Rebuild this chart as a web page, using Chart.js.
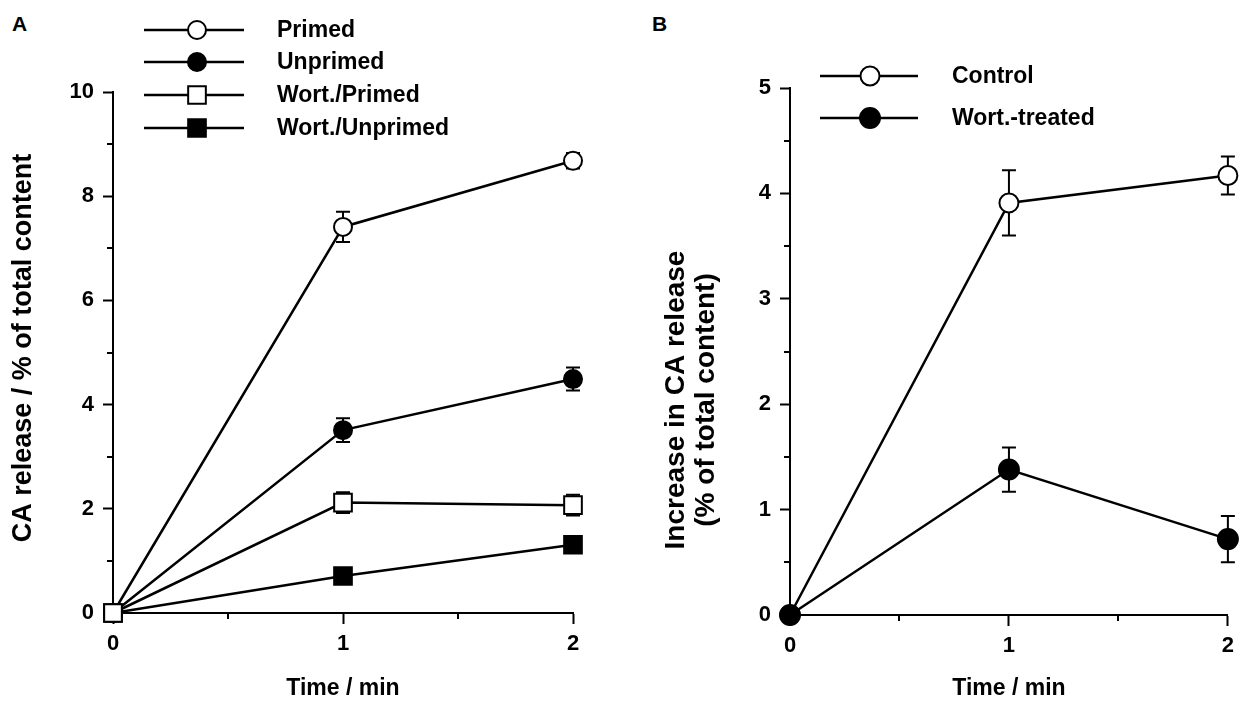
<!DOCTYPE html>
<html><head><meta charset="utf-8">
<script src="https://cdn.jsdelivr.net/npm/chart.js@4.4.1/dist/chart.umd.min.js"></script>
<style>
html,body{margin:0;padding:0;background:#fff;}
body{width:1241px;height:711px;position:relative;overflow:hidden;font-family:"Liberation Sans",Arial,sans-serif;}
.panel{position:absolute;top:0;height:711px;}
#wa{left:0;width:620px;}
#wb{left:620px;width:621px;}
.lbl{position:absolute;font-weight:bold;font-size:21px;color:#000;line-height:1;}
</style></head><body>
<div class="lbl" style="left:12px;top:13px">A</div>
<div class="lbl" style="left:652px;top:13px">B</div>
<div class="panel" id="wa"><canvas id="ca" width="620" height="711"></canvas></div>
<div class="panel" id="wb"><canvas id="cb" width="621" height="711"></canvas></div>
<script>
// ---- Panel A data ----
const timeA = [0, 1, 2];
const primed = [0, 7.41, 8.68];
const primedErr = [0, 0.29, 0.15];
const unprimed = [0, 3.51, 4.49];
const unprimedErr = [0, 0.23, 0.22];
const wortPrimed = [0, 2.12, 2.07];
const wortPrimedErr = [0, 0.2, 0.2];
const wortUnprimed = [0, 0.71, 1.31];
const wortUnprimedErr = [0, 0.08, 0.08];
const labelsA = ['Primed', 'Unprimed', 'Wort./Primed', 'Wort./Unprimed'];
const yTicksA = [0, 2, 4, 6, 8, 10];
const xTicks = [0, 1, 2];
const yTitleA = ['CA release / % of total content'];

// ---- Panel B data ----
const timeB = [0, 1, 2];
const control = [0, 3.91, 4.17];
const controlErr = [0, 0.31, 0.18];
const wortTreated = [0, 1.38, 0.72];
const wortTreatedErr = [0, 0.21, 0.22];
const labelsB = ['Control', 'Wort.-treated'];
const yTicksB = [0, 1, 2, 3, 4, 5];
const yTitleB = ['Increase in CA release', '(% of total content)'];

const FONT = '"Liberation Sans", Arial, sans-serif';
const BLACK = '#000';

function pts(xs, ys) { return xs.map((x, i) => ({x: x, y: ys[i]})); }

function mkDs(label, xs, ys, err, style, filled, radius, order) {
  return {
    label: label, data: pts(xs, ys), err: err,
    borderColor: BLACK, borderWidth: 2.5, tension: 0, fill: false,
    pointStyle: style, pointRadius: radius, pointHoverRadius: radius,
    pointBorderWidth: 2, pointBorderColor: BLACK,
    pointBackgroundColor: filled ? BLACK : '#fff',
    clip: false, order: order
  };
}

const errorBars = {
  id: 'errorBars',
  beforeDatasetsDraw(chart) {
    const ctx = chart.ctx, xs = chart.scales.x, ys = chart.scales.y;
    ctx.save();
    ctx.strokeStyle = BLACK; ctx.lineWidth = 2;
    chart.data.datasets.forEach(ds => {
      if (!ds.err) return;
      ds.data.forEach((p, j) => {
        const e = ds.err[j];
        if (!e) return;
        const x = xs.getPixelForValue(p.x);
        const yt = ys.getPixelForValue(p.y + e), yb = ys.getPixelForValue(p.y - e);
        ctx.beginPath();
        ctx.moveTo(x, yt); ctx.lineTo(x, yb);
        ctx.moveTo(x - 7, yt); ctx.lineTo(x + 7, yt);
        ctx.moveTo(x - 7, yb); ctx.lineTo(x + 7, yb);
        ctx.stroke();
      });
    });
    ctx.restore();
  }
};

const minorTicks = {
  id: 'minorTicks',
  afterDraw(chart, args, opts) {
    const ctx = chart.ctx;
    ctx.save();
    ctx.strokeStyle = BLACK; ctx.lineWidth = 2;
    const xs = chart.scales.x, ys = chart.scales.y;
    xs.ticks.forEach(t => {
      if (opts.xMajor(t.value)) return;
      const p = Math.round(xs.getPixelForValue(t.value));
      ctx.beginPath(); ctx.moveTo(p, xs.top); ctx.lineTo(p, xs.top + 6); ctx.stroke();
    });
    ys.ticks.forEach(t => {
      if (opts.yMajor(t.value)) return;
      const p = Math.round(ys.getPixelForValue(t.value));
      ctx.beginPath(); ctx.moveTo(ys.right, p); ctx.lineTo(ys.right - 6, p); ctx.stroke();
    });
    ctx.restore();
  }
};

const lineLegend = {
  id: 'lineLegend',
  afterDraw(chart, args, opts) {
    const ctx = chart.ctx;
    ctx.save();
    chart.data.datasets.forEach((ds, i) => {
      const y = opts.rows[i];
      ctx.strokeStyle = BLACK; ctx.lineWidth = 2.5;
      ctx.beginPath(); ctx.moveTo(opts.x1, y); ctx.lineTo(opts.x2, y); ctx.stroke();
      ctx.fillStyle = ds.pointBackgroundColor; ctx.strokeStyle = BLACK; ctx.lineWidth = 2;
      Chart.helpers.drawPoint(ctx, {pointStyle: ds.pointStyle, radius: ds.pointRadius, borderWidth: 2, rotation: 0}, opts.xm, y);
      ctx.fillStyle = BLACK;
      ctx.font = 'bold ' + opts.fontSize + 'px ' + FONT;
      ctx.textBaseline = 'middle'; ctx.textAlign = 'left';
      ctx.fillText(ds.label, opts.xt, y + 1);
    });
    ctx.restore();
  }
};

const yTitle = {
  id: 'yTitle',
  afterDraw(chart, args, opts) {
    const ctx = chart.ctx;
    ctx.save();
    ctx.fillStyle = BLACK;
    ctx.font = 'bold ' + opts.fontSize + 'px ' + FONT;
    ctx.textAlign = 'center'; ctx.textBaseline = 'middle';
    opts.lines.forEach((line, i) => {
      ctx.save();
      ctx.translate(opts.x + i * opts.dx, opts.cy);
      ctx.rotate(-Math.PI / 2);
      ctx.fillText(line, 0, 0);
      ctx.restore();
    });
    ctx.restore();
  }
};

function makeScales(cfg) {
  return {
    x: {
      type: 'linear', min: 0, max: 2,
      afterFit: s => { s.height = cfg.xH; },
      ticks: {
        stepSize: 0.5, autoSkip: false, maxRotation: 0, padding: 7,
        color: BLACK, font: {family: FONT, size: 22, weight: 'bold'},
        callback: v => (xTicks.includes(v) ? String(v) : '')
      },
      grid: {
        drawOnChartArea: false, tickLength: 11, tickWidth: 2,
        tickColor: c => (c.tick && xTicks.includes(c.tick.value) ? BLACK : 'rgba(0,0,0,0)')
      },
      border: {color: BLACK, width: 2},
      title: {display: true, text: 'Time / min', color: BLACK,
        font: {family: FONT, size: 23, weight: 'bold', lineHeight: 1.2}, padding: {top: 0, bottom: 9}}
    },
    y: {
      type: 'linear', min: 0, max: cfg.yMax,
      afterFit: s => { s.width = cfg.yW; },
      ticks: {
        stepSize: cfg.yStep, autoSkip: false, padding: 9,
        color: BLACK, font: {family: FONT, size: 22, weight: 'bold'},
        callback: v => (cfg.yTicks.includes(v) ? String(v) : '')
      },
      grid: {
        drawOnChartArea: false, tickLength: 10, tickWidth: 2,
        tickColor: c => (c.tick && cfg.yTicks.includes(c.tick.value) ? BLACK : 'rgba(0,0,0,0)')
      },
      border: {color: BLACK, width: 2},
      title: {display: false}
    }
  };
}

const common = {
  responsive: false, animation: false, devicePixelRatio: 1,
  plugins: {legend: {display: false}, tooltip: {enabled: false}, title: {display: false}},
  events: []
};

new Chart(document.getElementById('ca'), {
  type: 'line',
  data: {datasets: [
    mkDs(labelsA[0], timeA, primed, primedErr, 'circle', false, 9, 3),
    mkDs(labelsA[1], timeA, unprimed, unprimedErr, 'circle', true, 9, 2),
    mkDs(labelsA[2], timeA, wortPrimed, wortPrimedErr, 'rect', false, 12.5, 0),
    mkDs(labelsA[3], timeA, wortUnprimed, wortUnprimedErr, 'rect', true, 12.5, 1)
  ]},
  options: Object.assign({}, common, {
    layout: {padding: {top: 92, right: 47, left: 0, bottom: 0}},
    scales: makeScales({xH: 98, yW: 113, yMax: 10, yStep: 1, yTicks: yTicksA}),
    plugins: Object.assign({}, common.plugins, {
      minorTicks: {xMajor: v => xTicks.includes(v), yMajor: v => yTicksA.includes(v)},
      lineLegend: {rows: [30, 62, 95, 128], x1: 144, x2: 244, xm: 197, xt: 277, fontSize: 23},
      yTitle: {lines: yTitleA, x: 24, dx: 0, cy: 348, fontSize: 27}
    })
  }),
  plugins: [errorBars, minorTicks, lineLegend, yTitle]
});

new Chart(document.getElementById('cb'), {
  type: 'line',
  data: {datasets: [
    mkDs(labelsB[0], timeB, control, controlErr, 'circle', false, 9.5, 1),
    mkDs(labelsB[1], timeB, wortTreated, wortTreatedErr, 'circle', true, 10, 0)
  ]},
  options: Object.assign({}, common, {
    layout: {padding: {top: 88, right: 8, left: 0, bottom: 0}},
    scales: makeScales({xH: 96, yW: 170, yMax: 5, yStep: 0.5, yTicks: yTicksB}),
    plugins: Object.assign({}, common.plugins, {
      minorTicks: {xMajor: v => xTicks.includes(v), yMajor: v => yTicksB.includes(v)},
      lineLegend: {rows: [76, 118], x1: 200, x2: 298, xm: 250, xt: 332, fontSize: 23},
      yTitle: {lines: yTitleB, x: 56, dx: 30, cy: 400, fontSize: 28}
    })
  }),
  plugins: [errorBars, minorTicks, lineLegend, yTitle]
});
</script>
</body></html>
